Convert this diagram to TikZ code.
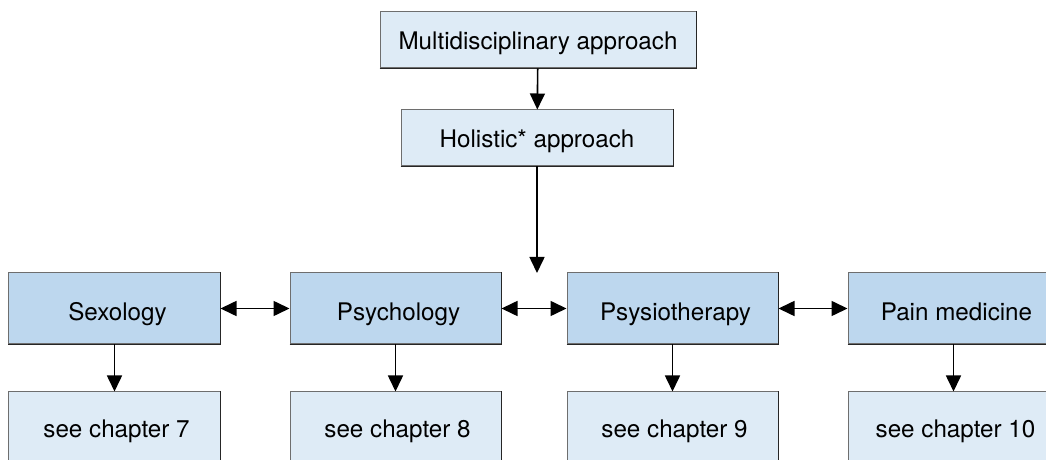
\documentclass[tikz,border=0pt]{standalone}
\usepackage{fontspec}
\setmainfont{TeX Gyre Heros}
\usetikzlibrary{arrows.meta}
\definecolor{boxpale}{HTML}{DEEBF6}
\definecolor{boxmid}{HTML}{BDD7EE}
\definecolor{edgegray}{HTML}{6E6E6E}
\tikzset{
  box/.style={draw=edgegray, line width=1bp, inner sep=0pt, align=center,
    font=\fontsize{24.3}{28}\selectfont, text=black, text depth=0pt},
  palebox/.style={box, fill=boxpale, text height=20bp},
  midbox/.style={box, fill=boxmid, text height=25bp},
  tip/.style={Triangle[length=16bp, width=15bp]},
  link/.style={line width=1.6bp, -{Triangle[length=16bp, width=15bp]}},
  dlink/.style={line width=1.6bp, {Triangle[length=16bp, width=15bp]}-{Triangle[length=16bp, width=15bp]}},
  shade edge/.style={line width=1bp, draw=black!85},
}
\begin{document}
\begin{tikzpicture}[x=1bp, y=-1bp]
  \useasboundingbox (0,0) rectangle (1046,460);
  \clip (0,0) rectangle (1046,460);

  % top of the hierarchy
  \node[palebox, minimum width=316bp, minimum height=56bp] (multi) at (538,40) {Multidisciplinary approach};
  \node[palebox, minimum width=272bp, minimum height=56bp] (holist) at (537,138) {Holistic* approach};
  \coordinate (hub) at (537,273);

  % disciplines
  \foreach \n/\x/\t in {sex/114.5/Sexology, psy/395.5/Psychology, phy/672.5/Psysiotherapy, pain/953.5/Pain medicine}{
    \node[midbox, minimum width=211bp, minimum height=71bp] (\n) at (\x,308.5) {\hspace*{6bp}\t};
  }
  % chapter references
  \foreach \n/\x/\t in {sexc/114.5/7, psyc/395.5/8, phyc/672.5/9, painc/953.5/10}{
    \node[palebox, minimum width=211bp, minimum height=71bp] (\n) at (\x,427.5) {\hspace*{4bp}see chapter \t};
  }

  % darker lower and right edges
  \foreach \n in {multi, holist, sex, psy, phy, pain, sexc, psyc, phyc, painc}{
    \draw[shade edge] (\n.south west) -- (\n.south east) -- (\n.north east);
  }

  % connectors
  \draw[link] (multi) -- (holist);
  \draw[link] (holist) -- (hub);
  \draw[dlink] (sex) -- (psy);
  \draw[dlink] (psy) -- (phy);
  \draw[dlink] (phy) -- (pain);
  \draw[link] (sex) -- (sexc);
  \draw[link] (psy) -- (psyc);
  \draw[link] (phy) -- (phyc);
  \draw[link] (pain) -- (painc);
\end{tikzpicture}
\end{document}
